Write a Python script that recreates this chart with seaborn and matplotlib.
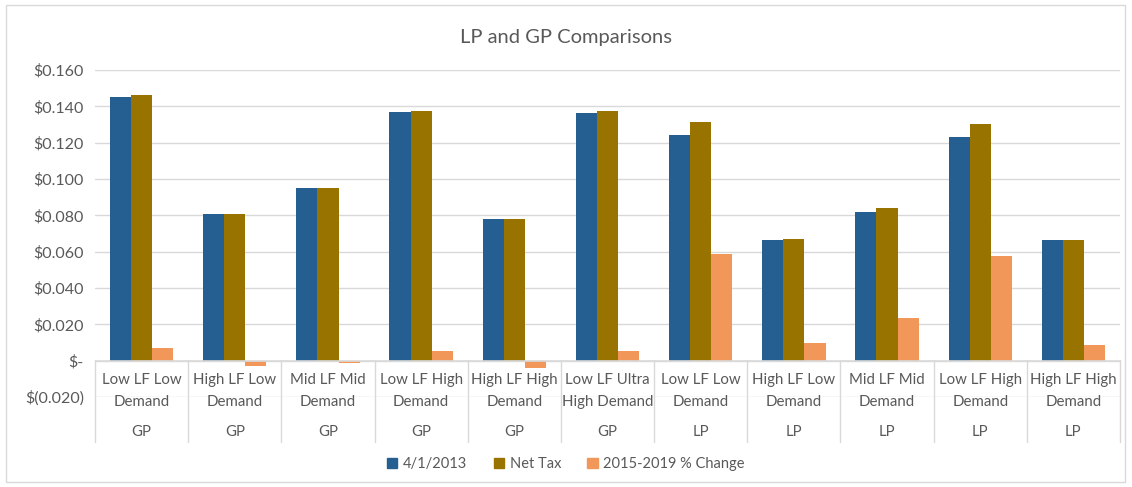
import matplotlib
matplotlib.use("Agg")
import matplotlib.pyplot as plt
import matplotlib.patches as mpatches
import matplotlib.transforms as mtransforms
import seaborn as sns
import pandas as pd
import numpy as np

# data
labels = ["Low LF Low\nDemand", "High LF Low\nDemand", "Mid LF Mid\nDemand",
          "Low LF High\nDemand", "High LF High\nDemand", "Low LF Ultra\nHigh Demand",
          "Low LF Low\nDemand", "High LF Low\nDemand", "Mid LF Mid\nDemand",
          "Low LF High\nDemand", "High LF High\nDemand"]
groups = ["GP", "GP", "GP", "GP", "GP", "GP", "LP", "LP", "LP", "LP", "LP"]
series_names = ["4/1/2013", "Net Tax", "2015-2019 % Change"]
val_2013 = [0.1452, 0.0805, 0.0953, 0.1368, 0.0782, 0.1362, 0.1243, 0.0665, 0.0820, 0.1230, 0.0662]
net_tax = [0.1462, 0.0805, 0.0950, 0.1372, 0.0778, 0.1372, 0.1315, 0.0670, 0.0838, 0.1305, 0.0665]
pct_change = [0.0072, -0.0030, -0.0015, 0.0052, -0.0042, 0.0052, 0.0588, 0.0095, 0.0235, 0.0578, 0.0088]

colors = ["#255E91", "#997300", "#F1975A"]

keys = [f"{g}|{i}" for i, g in enumerate(groups)]
df = pd.DataFrame({
    "key": keys * 3,
    "series": np.repeat(series_names, len(keys)),
    "value": val_2013 + net_tax + pct_change,
})

sns.set_style("white")
plt.rcParams["font.family"] = ["Lato", "DejaVu Sans"]
text_color = "#595959"

W, H = 1132, 487
fig = plt.figure(figsize=(W / 100, H / 100), dpi=100)
ax = fig.add_axes([95 / W, (H - 397) / H, (1120 - 95) / W, (397 - 70) / H])

sns.barplot(data=df, x="key", y="value", hue="series", order=keys,
            hue_order=series_names, palette=colors, width=0.68,
            saturation=1, linewidth=0, ax=ax, legend=False, zorder=3)

ax.set_ylim(-0.02, 0.16)
ax.set_xlim(-0.5, len(keys) - 0.5)
yt = np.arange(-0.02, 0.1601, 0.02)
ax.set_yticks(yt)

def fmt(v):
    if abs(v) < 1e-9:
        return "$-"
    if v < 0:
        return f"$({abs(v):.3f})"
    return f"${v:.3f}"

ax.set_yticklabels([fmt(v) for v in yt], color=text_color, fontsize=11.5)
ax.tick_params(axis="y", length=0, pad=8)
ax.set_xticks([])
ax.set_xlabel("")
ax.set_ylabel("")
for s in ax.spines.values():
    s.set_visible(False)
for v in yt:
    ax.axhline(v, color="#D9D9D9", lw=1, zorder=0)
ax.axhline(0, color="#D9D9D9", lw=1.2, zorder=4)

# multi-level category axis
trans = mtransforms.blended_transform_factory(ax.transData, fig.transFigure)
bottom = (H - 442) / H
zero_fig = (H - 360) / H
for i in range(len(keys) + 1):
    ax.plot([i - 0.5, i - 0.5], [zero_fig, bottom], transform=trans,
            color="#D9D9D9", lw=1, clip_on=False, zorder=4)
for i, (lab, g) in enumerate(zip(labels, groups)):
    ax.text(i, (H - 391) / H, lab, transform=trans, ha="center", va="center",
            fontsize=10.8, color=text_color, linespacing=1.75)
    ax.text(i, (H - 432) / H, g, transform=trans, ha="center", va="center",
            fontsize=10.8, color=text_color)

fig.text(0.5, (H - 37) / H, "LP and GP Comparisons", ha="center", va="center",
         fontsize=14.5, color=text_color)

handles = [mpatches.Patch(color=c, label=n) for c, n in zip(colors, series_names)]
fig.legend(handles=handles, loc="center", bbox_to_anchor=(0.5, (H - 464) / H),
           ncol=3, frameon=False, fontsize=10.5, handlelength=0.7,
           handleheight=0.7, handletextpad=0.4, columnspacing=1.8,
           labelcolor=text_color)

fig.add_artist(mpatches.Rectangle((6 / W, 5 / H), (1125 - 6) / W, (482 - 5) / H,
                                  transform=fig.transFigure, fill=False,
                                  edgecolor="#D9D9D9", lw=1))

fig.savefig("out.png", dpi=100)
